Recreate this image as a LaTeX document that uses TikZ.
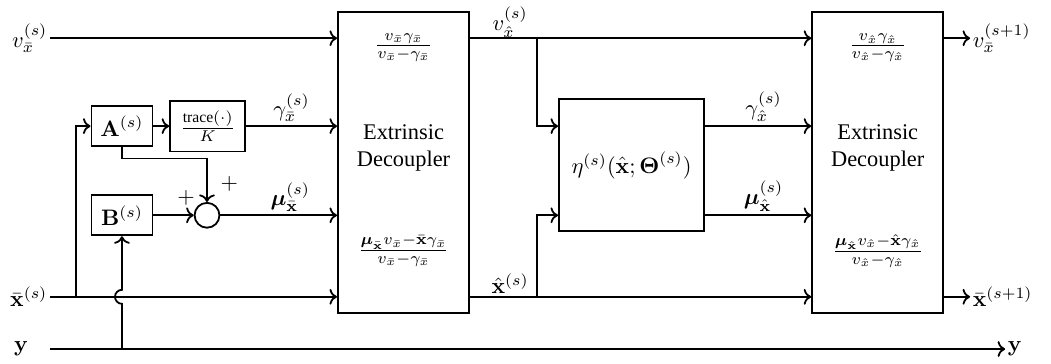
\documentclass[tikz,border=0pt]{standalone}
\usepackage{amsmath}
\usepackage{amssymb}
\usepackage[no-math]{fontspec}
\setmainfont{Liberation Serif}
\usetikzlibrary{arrows.meta, positioning}

\begin{document}
\begin{tikzpicture}[
    block/.style={rectangle, draw=black, line width=0.8pt, align=center},
    decoupler/.style={block, minimum width=2.06cm, minimum height=4.73cm},
    smallblock/.style={block, minimum width=0.96cm, minimum height=0.63cm, inner sep=1pt},
    sumnode/.style={circle, draw=black, line width=0.8pt, minimum size=0.39cm, inner sep=0pt},
    sig/.style={inner sep=1pt},
    lbl/.style={above, inner sep=1.5pt},
    arrow/.style={->, line width=0.8pt}
]
\useasboundingbox (0,0) rectangle (16.50,5.70);

% Inputs (left)
\node[sig, anchor=east] (vin) at (0.785,5.10) {$v_{\bar{x}}^{(s)}$};
\node[sig, anchor=east] (xin) at (0.785,1.04) {$\bar{\mathbf{x}}^{(s)}$};
\node[sig] (yin) at (0.33,0.22) {$\mathbf{y}$};
\coordinate (ystart) at (0.785,0.22);

% === Linear stage ===
\node[smallblock] (A) at (1.915,3.72) {$\mathbf{A}^{(s)}$};
\node[smallblock] (B) at (1.915,2.32) {$\mathbf{B}^{(s)}$};
\node[block, minimum width=1.18cm, minimum height=0.80cm, inner sep=1pt] (trace) at (3.26,3.72) {$\frac{\text{trace}(\cdot)}{K}$};
\node[sumnode] (sum) at (3.25,2.32) {};
\node (plusA) at (3.60,2.81) {$+$};
\node (plusB) at (2.92,2.59) {$+$};

% === First decoupler ===
\node[decoupler] (dec1) at (6.335,3.15) {};
\node (dec1top) at (6.335,4.95) {$\frac{v_{\bar{x}}\gamma_{\bar{x}}}{v_{\bar{x}}-\gamma_{\bar{x}}}$};
\node[align=center] (dec1txt) at (6.335,3.375) {Extrinsic\\Decoupler};
\node (dec1bot) at (6.335,1.76) {$\frac{\boldsymbol{\mu}_{\bar{\mathbf{x}}}v_{\bar{x}}-\bar{\mathbf{x}}\gamma_{\bar{x}}}{v_{\bar{x}}-\gamma_{\bar{x}}}$};

% === Denoiser ===
\node[block, minimum width=2.28cm, minimum height=2.07cm] (eta) at (9.915,3.105) {$\eta^{(s)}(\hat{\mathbf{x}};\boldsymbol{\Theta}^{(s)})$};

% === Second decoupler ===
\node[decoupler] (dec2) at (13.78,3.15) {};
\node (dec2top) at (13.78,4.95) {$\frac{v_{\hat{x}}\gamma_{\hat{x}}}{v_{\hat{x}}-\gamma_{\hat{x}}}$};
\node[align=center] (dec2txt) at (13.78,3.375) {Extrinsic\\Decoupler};
\node (dec2bot) at (13.78,1.76) {$\frac{\boldsymbol{\mu}_{\hat{\mathbf{x}}}v_{\hat{x}}-\hat{\mathbf{x}}\gamma_{\hat{x}}}{v_{\hat{x}}-\gamma_{\hat{x}}}$};

% Outputs (right)
\node[sig, anchor=west] (vout) at (15.23,5.10) {$v_{\bar{x}}^{(s+1)}$};
\node[sig, anchor=west] (xout) at (15.23,1.04) {$\bar{\mathbf{x}}^{(s+1)}$};
\node[sig, anchor=west] (yout) at (15.78,0.22) {$\mathbf{y}$};

% Branch points
\coordinate (xtap) at (1.19,1.04);
\coordinate (ytap) at (1.915,0.22);
\coordinate (abend) at (3.25,3.21);
\coordinate (vtap) at (8.43,5.10);
\coordinate (xhtap) at (8.43,1.04);

% === Arrows ===
\draw[arrow] (vin.east) -- (vin -| dec1.west);
\draw[arrow] (xin.east) -- (xin -| dec1.west);
\draw[arrow] (ystart) -- (yout.west);

\draw[arrow] (xtap) |- (A.west);
\draw[arrow] (A.east) -- (trace.west);
\draw[arrow] (trace.east) -- node[lbl] {$\gamma_{\bar{x}}^{(s)}$} (trace -| dec1.west);
\draw[arrow] (A.south) |- (abend) -- (sum.north);
\draw[arrow] (B.east) -- (sum.west);
\draw[arrow] (sum.east) -- node[lbl, pos=0.6] {$\boldsymbol{\mu}_{\bar{\mathbf{x}}}^{(s)}$} (sum -| dec1.west);
\draw[arrow] (ytap) -- ++(0,0.71) arc[start angle=-90, end angle=-270, radius=0.11] -- (B.south);

\draw[arrow] (dec1.east |- vin) -- node[above, inner sep=0pt, pos=0.6] {$v_{\hat{x}}^{(s)}$} (vtap) -- (vtap -| dec2.west);
\draw[arrow] (vtap) |- (eta.west |- A);
\draw[arrow] (dec1.east |- xin) -- node[above, inner sep=1pt, pos=0.6] {$\hat{\mathbf{x}}^{(s)}$} (xhtap) -- (xhtap -| dec2.west);
\draw[arrow] (xhtap) |- (eta.west |- B);

\draw[arrow] (eta.east |- A) -- node[lbl, pos=0.55] {$\gamma_{\hat{x}}^{(s)}$} (dec2.west |- A);
\draw[arrow] (eta.east |- B) -- node[lbl, pos=0.55] {$\boldsymbol{\mu}_{\hat{\mathbf{x}}}^{(s)}$} (dec2.west |- B);

\draw[arrow] (dec2.east |- vin) -- (vout.west);
\draw[arrow] (dec2.east |- xin) -- (xout.west);

\end{tikzpicture}
\end{document}
